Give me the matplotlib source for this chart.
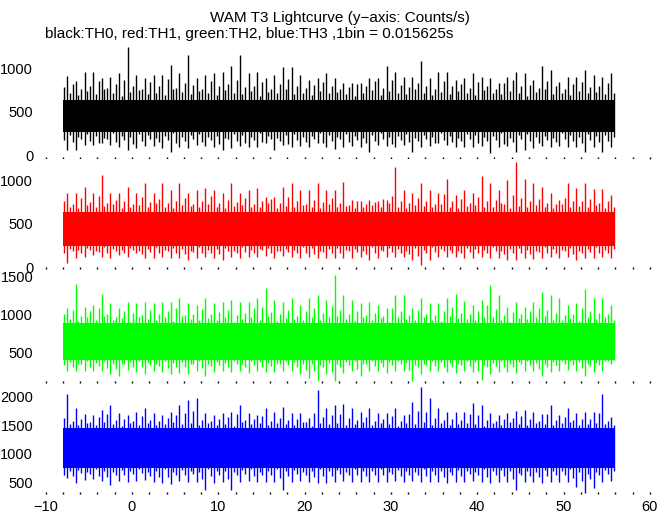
import numpy as np
import matplotlib
matplotlib.use("Agg")
import matplotlib.pyplot as plt

plt.rcParams["font.family"] = ["Liberation Sans", "DejaVu Sans"]

# start of each 1 s bin (s); for every bin the highest and lowest count
t_bins = np.arange(-8, 56)

black_hi = [912, 850, 954, 954, 885, 904, 950, 1249, 923, 885, 923, 925, 1038, 942, 1154, 885,
            923, 942, 962, 1027, 1154, 942, 962, 885, 923, 1019, 1019, 923, 865, 885, 950,
            885, 827, 827, 835, 885, 885, 1027, 962, 904, 904, 1085, 885, 962, 962, 865, 885,
            942, 904, 885, 827, 904, 962, 950, 865, 1027, 981, 846, 904, 896, 981, 923, 904, 950]
black_lo = [58, 58, 115, 115, 135, 115, 96, 58, 77, 104, 104, 77, 38, 96, 77, 115,
            104, 96, 58, 77, 104, 96, 96, 135, 58, 115, 96, 104, 96, 135, 96,
            65, 96, 104, 96, 38, 115, 104, 96, 115, 38, 96, 104, 135, 115, 96, 96,
            96, 104, 19, 96, 104, 38, 58, 77, 104, 96, 104, 88, 96, 38, 96, 38, 96]
# second tallest spike / second deepest dip in each bin
black_hi2 = [780, 820, 760, 800, 850, 770, 820, 870, 790, 760, 840, 800, 880, 770, 830, 810,
             760, 850, 790, 820, 870, 780, 800, 840, 760, 820, 880, 790, 770, 810, 840,
             800, 760, 780, 820, 790, 850, 770, 860, 810, 780, 830, 800, 760, 850, 790, 820,
             770, 840, 800, 760, 830, 870, 790, 810, 770, 850, 790, 760, 820, 840, 780, 800, 830]
black_lo2 = [170, 150, 190, 160, 140, 180, 150, 170, 130, 160, 180, 150, 170, 140, 160, 190,
             150, 170, 130, 180, 160, 140, 170, 150, 190, 160, 130, 170, 150, 180, 140,
             160, 190, 150, 170, 140, 160, 180, 130, 170, 150, 160, 190, 140, 170, 150, 160,
             180, 140, 160, 170, 130, 150, 190, 160, 140, 170, 150, 180, 160, 140, 170, 150, 160]
# third level: short spikes just outside the solid part
black_hi3 = [720, 690, 740, 700, 760, 710, 680, 730, 750, 700, 720, 690, 760, 730, 700, 740,
             710, 690, 750, 720, 700, 740, 680, 730, 710, 760, 700, 720, 690, 740, 710,
             730, 700, 680, 720, 750, 690, 740, 710, 700, 760, 720, 690, 730, 700, 740, 710,
             690, 750, 720, 700, 740, 710, 680, 730, 760, 700, 720, 690, 740, 710, 730, 700, 720]
black_lo3 = [230, 210, 240, 220, 200, 250, 220, 210, 240, 230, 200, 220, 250, 210, 230, 240,
             210, 220, 200, 240, 230, 210, 250, 220, 200, 230, 240, 210, 220, 250, 230,
             210, 240, 220, 200, 230, 250, 210, 220, 240, 200, 230, 210, 250, 220, 200, 240,
             230, 210, 220, 250, 200, 230, 240, 210, 220, 200, 250, 230, 210, 240, 220, 230, 210]

red_hi = [854, 854, 923, 862, 1065, 854, 854, 923, 862, 969, 854, 969, 892, 969, 854, 892,
          912, 892, 854, 969, 862, 892, 912, 815, 815, 931, 969, 892, 892, 969, 892,
          892, 988, 777, 769, 777, 769, 777, 1162, 892, 854, 969, 892, 854, 1015, 835, 892,
          854, 1054, 969, 892, 1008, 1212, 1015, 969, 923, 854, 777, 969, 912, 969, 900, 900, 835]
red_lo = [46, 104, 123, 142, 123, 104, 142, 123, 162, 104, 104, 123, 104, 104, 85, 104,
          115, 104, 85, 123, 104, 115, 115, 131, 104, 131, 123, 104, 115, 104, 104,
          104, 104, 104, 123, 85, 104, 115, 123, 115, 85, 27, 85, 115, 123, 115, 104,
          104, 115, 104, 104, 85, 85, 104, 92, 104, 115, 104, 115, 85, 104, 104, 115, 104]
red_hi2 = [760, 730, 800, 750, 820, 740, 780, 760, 730, 810, 750, 790, 740, 770, 800, 730,
           760, 820, 740, 780, 750, 800, 730, 760, 790, 740, 810, 760, 730, 780, 750,
           800, 740, 720, 760, 730, 750, 790, 820, 760, 740, 800, 770, 730, 850, 760, 790,
           740, 810, 760, 780, 730, 830, 800, 760, 790, 740, 730, 800, 770, 760, 790, 740, 760]
red_lo2 = [160, 190, 170, 200, 180, 160, 190, 170, 200, 150, 180, 170, 190, 160, 150, 180,
           170, 160, 150, 190, 170, 180, 160, 200, 170, 190, 180, 160, 170, 150, 180,
           170, 160, 190, 180, 150, 170, 190, 180, 160, 150, 130, 160, 180, 190, 170, 160,
           180, 170, 160, 190, 150, 160, 170, 150, 180, 170, 160, 190, 150, 170, 180, 160, 170]
red_hi3 = [700, 680, 720, 690, 710, 730, 680, 700, 720, 690, 740, 700, 680, 720, 710, 690,
           730, 700, 680, 710, 720, 690, 700, 740, 680, 710, 690, 720, 700, 680, 730,
           690, 710, 680, 700, 720, 690, 740, 700, 680, 720, 710, 690, 730, 700, 680, 710,
           720, 690, 700, 740, 680, 710, 690, 720, 700, 680, 730, 690, 710, 700, 720, 680, 700]
red_lo3 = [210, 200, 220, 190, 230, 210, 200, 220, 190, 210, 230, 200, 220, 210, 190, 230,
           200, 210, 220, 190, 230, 200, 210, 220, 190, 210, 200, 230, 220, 190, 210,
           220, 200, 210, 190, 230, 200, 220, 210, 190, 220, 200, 230, 210, 200, 190, 220,
           210, 200, 230, 190, 210, 220, 200, 190, 230, 210, 200, 220, 190, 210, 230, 200, 210]

green_hi = [1087, 1404, 1100, 1122, 1274, 1143, 1078, 1165, 1143, 1157, 1143, 1165, 1157, 1217, 1143, 1122,
            1209, 1143, 1165, 1187, 1157, 1165, 1209, 1348, 1187, 1165, 1209, 1122, 1209, 1252, 1187,
            1522, 1261, 1187, 1143, 1165, 1122, 1078, 1261, 1261, 1078, 1209, 1143, 1143, 1209, 1274, 1174,
            1122, 1187, 1391, 1261, 1100, 1157, 1100, 1157, 1296, 1261, 1209, 1122, 1143, 1330, 1209, 1209, 1122]
green_lo = [252, 252, 252, 252, 252, 209, 187, 261, 243, 209, 252, 243, 209, 230, 209, 252,
            187, 243, 252, 243, 252, 230, 252, 243, 243, 252, 252, 209, 165, 122, 209,
            122, 230, 252, 187, 252, 252, 230, 252, 252, 122, 209, 252, 252, 243, 230, 252,
            243, 130, 209, 243, 243, 230, 252, 252, 187, 243, 252, 261, 252, 187, 243, 252, 339]
green_hi2 = [1000, 1060, 980, 1040, 1090, 1010, 970, 1050, 1020, 990, 1060, 1000, 1040, 1080, 990, 1010,
             1070, 1000, 1030, 1060, 990, 1020, 1080, 1100, 1030, 1000, 1060, 980, 1050, 1090, 1020,
             1110, 1060, 1000, 1040, 990, 1020, 980, 1080, 1050, 990, 1060, 1010, 990, 1040, 1100, 1020,
             1000, 1050, 1120, 1070, 990, 1030, 1000, 1040, 1080, 1060, 1020, 990, 1010, 1090, 1040, 1020, 1000]
green_lo2 = [330, 300, 340, 310, 320, 290, 280, 340, 310, 300, 330, 320, 290, 310, 300, 340,
             290, 320, 330, 310, 340, 300, 330, 310, 320, 340, 330, 300, 270, 250, 300,
             240, 310, 330, 280, 340, 320, 310, 330, 340, 260, 300, 330, 320, 310, 300, 330,
             320, 250, 300, 320, 310, 300, 340, 330, 280, 310, 330, 340, 330, 290, 320, 330, 380]
green_hi3 = [940, 910, 960, 930, 980, 920, 950, 900, 970, 940, 920, 960, 910, 980, 940, 930,
             950, 920, 970, 900, 940, 960, 930, 980, 910, 950, 940, 920, 970, 930, 960,
             980, 940, 910, 960, 930, 950, 900, 970, 940, 920, 960, 930, 910, 980, 950, 940,
             920, 960, 970, 930, 900, 950, 940, 960, 980, 930, 920, 950, 910, 970, 940, 960, 930]
green_lo3 = [370, 350, 380, 360, 390, 350, 340, 370, 380, 360, 350, 390, 360, 370, 350, 380,
             340, 370, 360, 390, 350, 380, 370, 360, 350, 390, 370, 350, 340, 330, 360,
             340, 370, 380, 350, 390, 360, 370, 380, 360, 330, 350, 380, 370, 360, 350, 390,
             370, 330, 360, 380, 350, 370, 390, 360, 340, 370, 380, 390, 370, 350, 360, 380, 400]

blue_hi = [2045, 1800, 1695, 1683, 1771, 1858, 1712, 1683, 1741, 1800, 1712, 1683, 1730, 1858, 1946, 1987,
           1712, 1683, 1712, 1741, 1858, 1712, 1683, 1800, 1741, 1829, 1712, 1712, 1625, 2121, 1800,
           1858, 1870, 1800, 1741, 1800, 1712, 1712, 1800, 1683, 1917, 2179, 1975, 1800, 1741, 1741, 1741,
           1887, 1858, 1712, 1683, 1712, 1753, 1771, 1741, 1695, 1858, 1683, 1800, 1712, 1741, 1741, 2045, 1654]
blue_lo = [574, 486, 545, 562, 527, 457, 527, 515, 527, 545, 515, 486, 469, 527, 515, 515,
           370, 486, 515, 370, 515, 527, 515, 515, 515, 370, 515, 527, 515, 486, 486,
           504, 527, 515, 515, 504, 515, 515, 527, 515, 527, 515, 515, 515, 486, 515, 515,
           527, 515, 486, 515, 515, 370, 515, 504, 486, 504, 515, 515, 428, 311, 399, 515, 527]
blue_hi2 = [1640, 1580, 1610, 1560, 1650, 1700, 1590, 1620, 1570, 1660, 1600, 1580, 1630, 1690, 1720, 1750,
            1600, 1570, 1620, 1650, 1700, 1590, 1610, 1660, 1580, 1640, 1600, 1620, 1560, 1720, 1650,
            1680, 1700, 1640, 1600, 1650, 1580, 1620, 1660, 1570, 1710, 1760, 1730, 1640, 1600, 1620, 1590,
            1700, 1680, 1600, 1570, 1610, 1640, 1660, 1620, 1580, 1700, 1590, 1650, 1600, 1620, 1610, 1720, 1580]
blue_lo2 = [640, 610, 660, 650, 620, 590, 640, 630, 650, 660, 620, 600, 590, 640, 630, 650,
            560, 610, 640, 570, 630, 650, 620, 640, 630, 580, 620, 650, 640, 600, 610,
            620, 650, 630, 640, 620, 640, 630, 650, 620, 640, 630, 620, 640, 600, 630, 620,
            650, 640, 600, 630, 620, 560, 640, 620, 600, 620, 630, 640, 580, 520, 570, 630, 650]
blue_hi3 = [1530, 1500, 1550, 1510, 1560, 1520, 1490, 1540, 1510, 1550, 1500, 1530, 1560, 1520, 1540, 1500,
            1550, 1510, 1530, 1490, 1560, 1520, 1540, 1500, 1550, 1530, 1510, 1560, 1490, 1540, 1520,
            1550, 1510, 1530, 1560, 1500, 1540, 1520, 1490, 1550, 1530, 1560, 1510, 1540, 1500, 1520, 1550,
            1530, 1490, 1540, 1510, 1560, 1520, 1500, 1550, 1530, 1510, 1540, 1560, 1500, 1520, 1550, 1530, 1510]
blue_lo3 = [700, 720, 690, 730, 710, 680, 720, 700, 740, 690, 710, 730, 680, 720, 700, 690,
            730, 710, 700, 680, 720, 740, 690, 710, 730, 700, 720, 690, 710, 740, 700,
            720, 690, 730, 700, 710, 740, 680, 720, 700, 690, 730, 710, 700, 680, 720, 710,
            690, 730, 700, 720, 710, 660, 700, 690, 720, 700, 710, 730, 690, 650, 680, 720, 700]

# dense part of each band (where the curve is solid)
core_lo = [270, 240, 400, 760]
core_hi = [640, 640, 880, 1460]

channels = [("black", black_hi, black_lo, black_hi2, black_lo2, black_hi3, black_lo3),
            ("#ff0000", red_hi, red_lo, red_hi2, red_lo2, red_hi3, red_lo3),
            ("#00ff00", green_hi, green_lo, green_hi2, green_lo2, green_hi3, green_lo3),
            ("#0000ff", blue_hi, blue_lo, blue_hi2, blue_lo2, blue_hi3, blue_lo3)]

ylims = [(-45, 1250), (-20, 1250), (90, 1565), (293, 2228)]
yticks = [[0, 500, 1000], [0, 500, 1000], [500, 1000, 1500], [500, 1000, 1500, 2000]]
boxes = [(0.6913, 0.2183), (0.4777, 0.2136), (0.2557, 0.2171), (0.0402, 0.2142)]

fig = plt.figure(figsize=(6.72, 5.15), dpi=100)

for i, (col, hi, lo, hi2, lo2, hi3, lo3) in enumerate(channels):
    ax = fig.add_axes([0.068, boxes[i][0], 0.899, boxes[i][1]])
    ax.fill_between([t_bins[0], t_bins[-1] + 1], core_lo[i], core_hi[i], color=col, lw=0)
    ax.vlines(t_bins + 0.5, lo, hi, color=col, lw=1)
    ax.vlines(t_bins + 0.12, lo2, hi2, color=col, lw=1)
    ax.vlines(t_bins + 0.8, lo3, hi3, color=col, lw=1)
    ax.set_xlim(-10, 60)
    ax.set_ylim(*ylims[i])
    ax.set_yticks(yticks[i])
    for s in ax.spines.values():
        s.set_visible(False)
    ax.set_xticks(np.arange(-10, 61, 10))
    ax.set_xticks(np.arange(-8, 60, 2), minor=True)
    ax.tick_params(axis="x", which="both", direction="in", length=1.2, width=1,
                   labelbottom=(i == 3), labelsize=10.5, pad=4)
    ax.tick_params(axis="y", length=0, pad=9, labelsize=10.5)

fig.text(0.506, 1 - 18 / 515, "WAM T3 Lightcurve (y\u2212axis: Counts/s)",
         ha="center", va="center", fontsize=11)
fig.text(45 / 672, 1 - 34 / 515, "black:TH0, red:TH1, green:TH2, blue:TH3 ,1bin = 0.015625s",
         ha="left", va="center", fontsize=11)

fig.savefig("out.png", dpi=100)
